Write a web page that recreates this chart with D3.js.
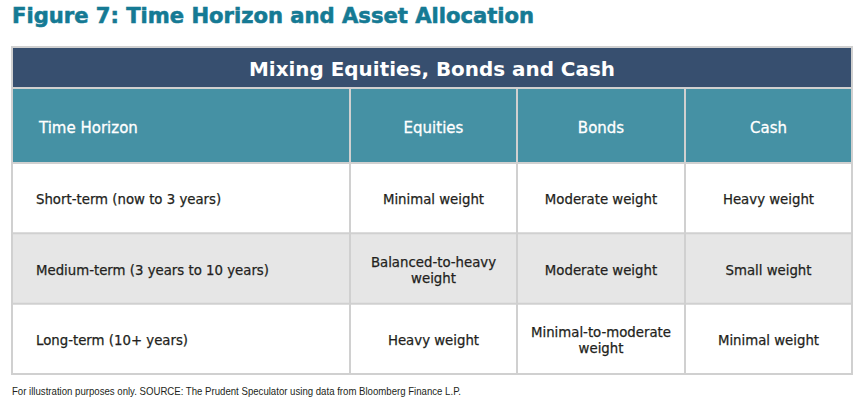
<!DOCTYPE html>
<html>
<head>
<meta charset="utf-8">
<script src="https://cdn.jsdelivr.net/npm/d3@7"></script>
<style>
  html, body { margin: 0; padding: 0; background: #fff; }
  svg { display: block; }
</style>
</head>
<body>
<div id="chart"></div>
<script>
// ---- data ----
const figureTitle = "Figure 7: Time Horizon and Asset Allocation";
const tableTitle = "Mixing Equities, Bonds and Cash";
const columns = ["Time Horizon", "Equities", "Bonds", "Cash"];
const horizons = ["Short-term (now to 3 years)", "Medium-term (3 years to 10 years)", "Long-term (10+ years)"];
const equities = ["Minimal weight", "Balanced-to-heavy weight", "Heavy weight"];
const bonds = ["Moderate weight", "Moderate weight", "Minimal-to-moderate weight"];
const cash = ["Heavy weight", "Small weight", "Minimal weight"];
const footnote = "For illustration purposes only. SOURCE: The Prudent Speculator using data from Bloomberg Finance L.P.";

// ---- layout ----
const W = 865, H = 404;
const left = 12, right = 852;
const topY = 47, titleBarH = 41, headH = 75, rowsBottom = 374;
const colEdges = [12, 350, 517, 685, 852];
const FONT = "'DejaVu Sans', sans-serif";

const svg = d3.select("#chart").append("svg").attr("width", W).attr("height", H);

const rowsData = horizons.map((h, i) => [h, equities[i], bonds[i], cash[i]]);

const xCol = d3.scaleOrdinal().domain(columns).range(colEdges.slice(0, 4));
const wCol = d3.scaleOrdinal().domain(columns).range(colEdges.slice(1).map((e, i) => e - colEdges[i]));
const yRow = d3.scaleBand().domain(horizons).range([topY + titleBarH + headH, rowsBottom]);

// figure title
svg.append("text")
  .attr("x", left).attr("y", 23)
  .attr("font-family", FONT).attr("font-weight", "bold")
  .attr("font-size", 22).attr("fill", "#157a94")
  .attr("stroke", "#157a94").attr("stroke-width", 0.6)
  .attr("textLength", 522).attr("lengthAdjust", "spacingAndGlyphs")
  .text(figureTitle);

// title bar
svg.append("rect").attr("x", left).attr("y", topY).attr("width", right - left).attr("height", titleBarH)
  .attr("fill", "#374f6f");
svg.append("text")
  .attr("x", (left + right) / 2).attr("y", topY + titleBarH / 2 + 1)
  .attr("dy", "0.36em").attr("text-anchor", "middle")
  .attr("font-family", FONT).attr("font-weight", "bold").attr("font-size", 20)
  .attr("fill", "#fff")
  .attr("textLength", 366).attr("lengthAdjust", "spacingAndGlyphs")
  .text(tableTitle);

// header row
const hy = topY + titleBarH;
svg.append("rect").attr("x", left).attr("y", hy).attr("width", right - left).attr("height", headH)
  .attr("fill", "#4591a4");
svg.selectAll("text.head").data(columns).join("text")
  .attr("class", "head")
  .attr("x", (d, i) => i === 0 ? xCol(d) + 27 : xCol(d) + wCol(d) / 2)
  .attr("y", hy + headH / 2 + 2.5)
  .attr("dy", "0.36em")
  .attr("text-anchor", (d, i) => i === 0 ? "start" : "middle")
  .attr("font-family", FONT).attr("font-size", 15).attr("fill", "#fff")
  .attr("stroke", "#fff").attr("stroke-width", 0.3)
  .text(d => d);

// body rows
const rowG = svg.selectAll("g.row").data(rowsData).join("g").attr("class", "row")
  .attr("transform", (d, i) => `translate(0,${yRow(horizons[i])})`);
rowG.append("rect")
  .attr("x", left).attr("y", 0).attr("width", right - left).attr("height", yRow.bandwidth())
  .attr("fill", (d, i) => i % 2 === 1 ? "#e6e6e6" : "#ffffff");

function wrapLines(text, maxW) {
  const words = text.split(" ");
  const approx = text.length * 7.8;
  if (approx <= maxW || words.length < 2) return [text];
  return [words.slice(0, -1).join(" "), words[words.length - 1]];
}

rowG.each(function(row, ri) {
  const g = d3.select(this);
  row.forEach((val, ci) => {
    const c = columns[ci];
    const lines = ci === 0 ? [val] : wrapLines(val, wCol(c) - 24);
    const xx = ci === 0 ? xCol(c) + 24 : xCol(c) + wCol(c) / 2;
    const t = g.append("text")
      .attr("x", xx)
      .attr("text-anchor", ci === 0 ? "start" : "middle")
      .attr("font-family", FONT).attr("font-size", 13.3).attr("fill", "#231f20")
      .attr("stroke", "#231f20").attr("stroke-width", 0.25);
    const lh = 16;
    lines.forEach((ln, li) => {
      t.append("tspan")
        .attr("x", xx)
        .attr("y", yRow.bandwidth() / 2 + 1.5 + (li - (lines.length - 1) / 2) * lh)
        .attr("dy", "0.36em")
        .text(ln);
    });
  });
});

// grid lines
const gridColor = "#d0d0d0";
const grid = svg.append("g").attr("stroke", gridColor).attr("stroke-width", 2).attr("fill", "none");
[hy].concat(horizons.map(h => yRow(h))).forEach(y => {
  grid.append("line").attr("x1", left).attr("x2", right).attr("y1", y).attr("y2", y);
});
colEdges.slice(1, -1).forEach(x => {
  grid.append("line").attr("x1", x).attr("x2", x).attr("y1", hy).attr("y2", rowsBottom);
});
grid.append("rect").attr("x", left).attr("y", topY).attr("width", right - left).attr("height", rowsBottom - topY);

// footnote
svg.append("text")
  .attr("x", left).attr("y", 395)
  .attr("font-family", "'Liberation Sans Narrow', 'Liberation Sans', sans-serif")
  .attr("font-size", 11).attr("fill", "#231f20")
  .attr("textLength", 449).attr("lengthAdjust", "spacingAndGlyphs")
  .text(footnote);
</script>
</body>
</html>
